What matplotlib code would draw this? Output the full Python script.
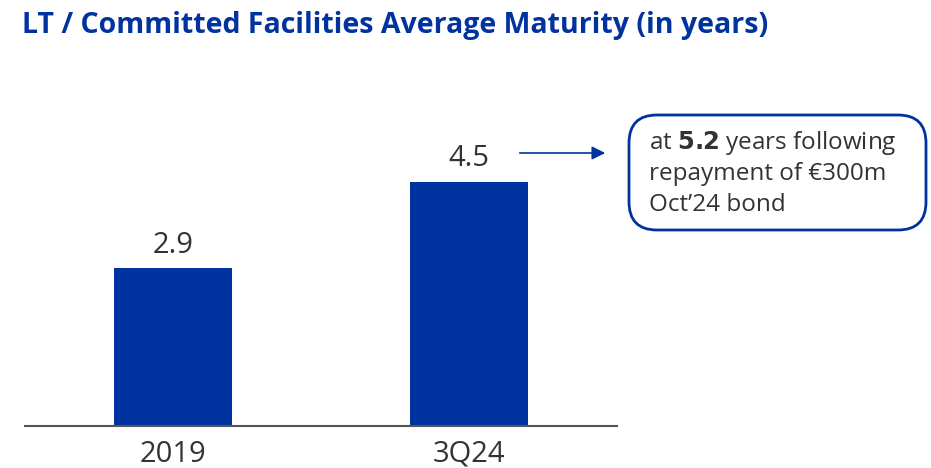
import matplotlib
matplotlib.use("Agg")
import matplotlib.pyplot as plt
from matplotlib.patches import FancyBboxPatch

categories = ["2019", "3Q24"]
values = [2.9, 4.5]
value_labels = ["2.9", "4.5"]

BLUE = "#0033A0"
GREY = "#333333"

plt.rcParams["font.family"] = ["Open Sans", "DejaVu Sans"]

fig = plt.figure(figsize=(9.31, 4.68), dpi=100)
ax = fig.add_axes([0.0269, 0.0897, 0.636, 0.6966])

x = range(len(categories))
ax.bar(x, values, width=0.4, color=BLUE)
for xi, v, lab in zip(x, values, value_labels):
    ax.annotate(lab, (xi, v), xytext=(0, 6), textcoords="offset points",
                ha="center", va="bottom", fontsize=21, color=GREY)

ax.set_xlim(-0.5, 1.5)
ax.set_ylim(0, 6.0)
ax.set_xticks(list(x))
ax.set_xticklabels(categories, fontsize=21, color=GREY)
ax.tick_params(axis="x", length=0, pad=10)
ax.set_yticks([])
for s in ["top", "right", "left"]:
    ax.spines[s].set_visible(False)
ax.spines["bottom"].set_color("#555555")
ax.spines["bottom"].set_linewidth(1.5)

# title
fig.text(0.0236, 1 - 25 / 468, "LT / Committed Facilities Average Maturity (in years)",
         fontsize=20.5, fontweight="bold", color=BLUE, ha="left", va="center")

# arrow to note
ax.annotate("", xy=(608 / 931, 1 - 153 / 468), xytext=(517 / 931, 1 - 153 / 468),
            xycoords="figure fraction", textcoords="figure fraction",
            arrowprops=dict(arrowstyle="-|>", color=BLUE, lw=1.2, mutation_scale=20))

# note box
box = FancyBboxPatch((629 / 931, 1 - 230 / 468), 297 / 931, 115 / 468,
                     boxstyle="round,pad=0,rounding_size=0.03",
                     transform=fig.transFigure, fill=False,
                     edgecolor=BLUE, linewidth=2, mutation_aspect=2)
fig.patches.append(box)
fig.text(649 / 931, 1 - 143 / 468, "at $\\bf{5.2}$ years following", fontsize=17.5,
         color=GREY, va="center", ha="left")
fig.text(649 / 931, 1 - 174 / 468, "repayment of €300m", fontsize=17.5,
         color=GREY, va="center", ha="left")
fig.text(649 / 931, 1 - 205 / 468, "Oct’24 bond", fontsize=17.5,
         color=GREY, va="center", ha="left")

fig.savefig("out.png", dpi=100)
